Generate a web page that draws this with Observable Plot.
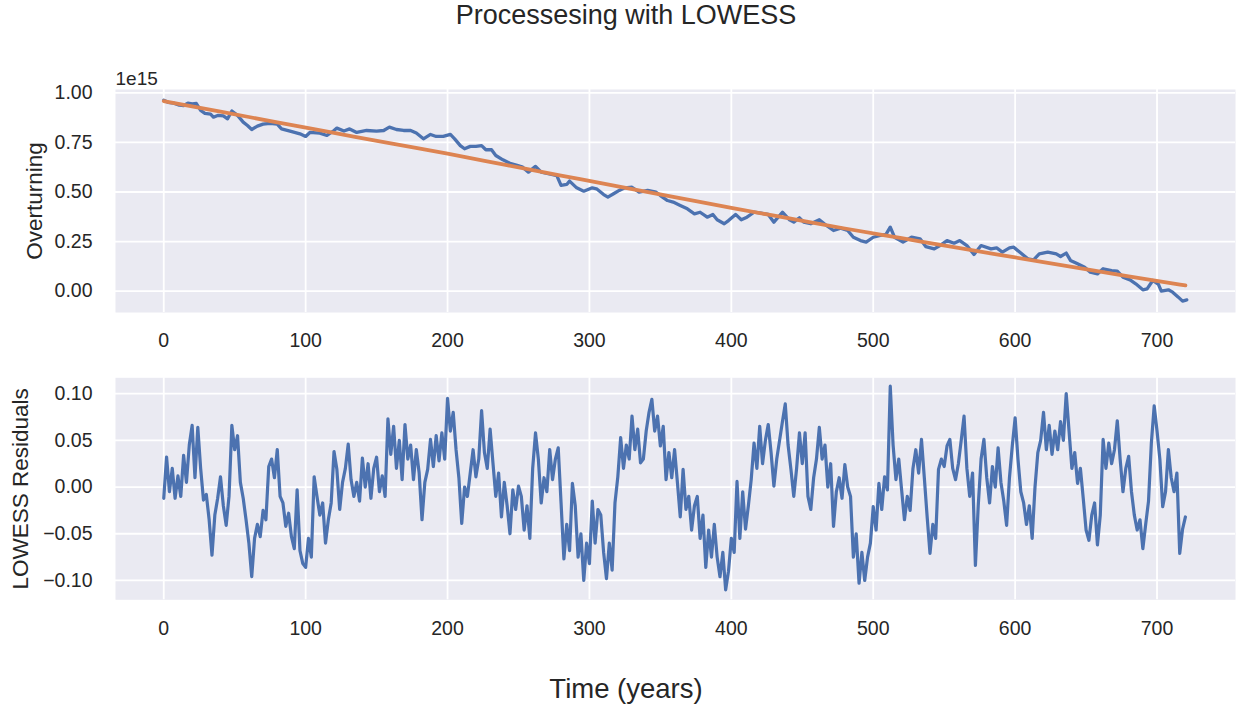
<!DOCTYPE html>
<html><head><meta charset="utf-8">
<script src="https://cdn.jsdelivr.net/npm/d3@7"></script>
<script src="https://cdn.jsdelivr.net/npm/@observablehq/plot@0.6"></script>
<style>
html,body{margin:0;padding:0;background:#fff;}
#fig{position:relative;width:1240px;height:708px;font-family:"Liberation Sans",Arial,sans-serif;color:#262626;overflow:hidden;background:#fff;}
.lbl{position:absolute;white-space:nowrap;line-height:1;transform:translateX(-50%);}
#fig svg{position:absolute;left:0;overflow:visible;}
</style></head><body>
<div id="fig"></div>
<script>
// ---------- data ----------
const xTicks = [0, 100, 200, 300, 400, 500, 600, 700];
const overYTicks = [0, 0.25, 0.5, 0.75, 1.0];
const resYTicks = [-0.10, -0.05, 0, 0.05, 0.10];

// Overturning (units of 1e15)
const overturningYears = [0,3,7,11,14,17,20,23,26,29,33,35,38,42,45,48,52,56,59,62,66,70,75,80,83,89,96,100,103,110,115,120,122,127,131,136,143,150,155,159,164,169,174,178,183,188,192,197,202,205,209,212,216,220,224,227,231,234,239,244,249,253,257,262,266,271,277,280,284,286,291,296,302,305,310,313,317,321,325,330,335,341,347,350,355,359,364,369,374,378,383,387,390,395,398,403,407,411,416,421,426,430,436,441,444,448,451,456,462,467,472,477,482,486,491,495,500,505,509,512,515,521,527,533,537,543,547,552,557,561,566,571,576,583,587,591,596,599,604,609,613,617,623,629,632,636,639,644,649,653,658,662,668,672,676,681,685,690,693,697,701,703,708,711,715,718,721];
const overturningValues = [0.963,0.952,0.948,0.938,0.936,0.948,0.944,0.946,0.911,0.896,0.892,0.877,0.886,0.884,0.869,0.908,0.886,0.852,0.835,0.815,0.832,0.842,0.846,0.842,0.818,0.807,0.793,0.780,0.800,0.797,0.785,0.810,0.822,0.807,0.818,0.800,0.810,0.807,0.810,0.827,0.815,0.810,0.810,0.797,0.768,0.790,0.780,0.780,0.790,0.768,0.734,0.718,0.730,0.730,0.734,0.713,0.713,0.684,0.662,0.645,0.634,0.625,0.600,0.629,0.600,0.592,0.583,0.533,0.538,0.555,0.521,0.504,0.521,0.516,0.487,0.474,0.491,0.508,0.521,0.524,0.499,0.508,0.499,0.482,0.457,0.449,0.432,0.415,0.390,0.398,0.373,0.387,0.360,0.340,0.356,0.387,0.360,0.373,0.398,0.393,0.387,0.348,0.398,0.360,0.348,0.370,0.348,0.340,0.360,0.331,0.306,0.318,0.306,0.272,0.255,0.247,0.272,0.281,0.286,0.323,0.272,0.247,0.272,0.264,0.225,0.213,0.230,0.255,0.242,0.255,0.230,0.185,0.230,0.213,0.218,0.197,0.218,0.222,0.192,0.163,0.158,0.188,0.197,0.188,0.175,0.192,0.155,0.138,0.121,0.096,0.087,0.113,0.104,0.101,0.071,0.057,0.037,0.007,0.012,0.054,0.034,0.000,0.007,-0.005,-0.030,-0.050,-0.044];

// LOWESS trend (units of 1e15)
const trendYears = [0,40,80,120,160,200,240,280,320,360,400,440,480,520,560,600,640,680,720];
const trendValues = [0.958,0.905,0.851,0.798,0.745,0.693,0.638,0.583,0.528,0.474,0.420,0.368,0.316,0.267,0.218,0.170,0.122,0.075,0.029];

// LOWESS residuals, one value every 2 years from year 0 to 720
const residualStep = 2;
const residualValues = [
-0.012,0.032,-0.005,0.020,-0.012,0.012,-0.010,0.034,0.005,0.045,
0.066,0.010,0.064,0.020,-0.014,-0.008,-0.035,-0.073,-0.030,-0.012,
0.011,-0.020,-0.041,-0.010,0.066,0.040,0.055,0.005,-0.012,-0.035,
-0.060,-0.096,-0.055,-0.040,-0.053,-0.025,-0.035,0.022,0.030,0.010,
0.040,-0.010,-0.017,-0.042,-0.028,-0.053,-0.066,-0.003,-0.068,-0.082,
-0.086,-0.055,-0.075,0.011,-0.010,-0.030,-0.017,-0.060,-0.035,-0.017,
0.038,0.019,-0.024,0.005,0.020,0.046,0.008,-0.010,0.005,-0.015,
0.031,0.000,0.025,-0.012,0.020,0.032,-0.005,0.012,-0.010,0.073,
0.035,0.065,0.020,0.050,0.008,0.067,0.030,0.045,0.008,0.040,
0.015,-0.035,0.005,0.019,0.051,0.022,0.055,0.028,0.058,0.030,
0.095,0.060,0.080,0.040,0.010,-0.039,0.000,-0.010,0.015,0.040,
0.011,0.030,0.082,0.037,0.020,0.062,0.026,-0.010,0.015,-0.032,
0.005,-0.020,-0.050,-0.003,-0.024,0.001,-0.010,-0.046,-0.020,-0.055,
0.020,0.058,0.030,-0.017,0.010,-0.005,0.040,0.008,0.030,0.042,
-0.017,-0.077,-0.040,-0.068,0.004,-0.020,-0.075,-0.050,-0.100,-0.060,
-0.082,-0.015,-0.060,-0.024,-0.030,-0.070,-0.098,-0.060,-0.089,-0.017,
0.011,0.053,0.020,0.045,0.030,0.076,0.040,0.062,0.026,0.030,
0.060,0.080,0.094,0.060,0.076,0.044,0.065,0.008,0.037,0.010,
0.040,0.005,-0.032,0.019,-0.024,-0.010,-0.046,-0.020,-0.010,-0.055,
-0.030,-0.086,-0.046,-0.075,-0.040,-0.075,-0.096,-0.070,-0.110,-0.090,
-0.055,-0.070,0.006,-0.055,-0.005,-0.045,-0.020,0.008,0.047,0.020,
0.065,0.025,0.050,0.067,0.037,0.001,0.030,0.050,0.070,0.089,
0.045,0.019,-0.010,0.020,0.058,0.025,0.058,-0.010,-0.024,0.010,
0.030,0.064,0.030,0.045,0.000,0.025,-0.042,-0.005,0.010,-0.012,
0.024,0.000,-0.010,-0.075,-0.050,-0.103,-0.070,-0.100,-0.075,-0.060,
-0.021,-0.046,0.004,-0.024,0.011,-0.003,0.108,0.045,0.008,0.030,
-0.003,-0.035,-0.010,-0.025,0.020,0.040,0.015,0.051,0.010,-0.032,
-0.071,-0.040,-0.055,0.019,0.030,0.022,0.044,0.051,0.020,0.008,
0.025,0.050,0.076,0.020,-0.010,0.015,-0.084,-0.020,0.030,0.051,
0.010,-0.017,0.022,0.000,0.042,0.005,-0.015,-0.041,0.010,0.044,
0.074,0.030,-0.005,-0.017,-0.040,-0.020,-0.055,0.000,0.037,0.050,
0.080,0.040,0.066,0.035,0.060,0.040,0.070,0.050,0.100,0.060,
0.020,0.037,0.004,0.020,-0.012,-0.046,-0.057,-0.030,-0.017,-0.062,
-0.030,0.051,0.020,0.047,0.025,0.040,0.071,0.030,-0.005,0.020,
0.033,-0.005,-0.030,-0.046,-0.035,-0.066,-0.040,-0.015,0.047,0.087,
0.060,0.030,-0.021,-0.005,0.040,0.010,-0.005,0.015,-0.071,-0.045,
-0.032];

// ---------- drawing ----------
const FONT = '"Liberation Sans", Arial, sans-serif';
const BG = "#EAEAF2", BLUE = "#4C72B0", ORANGE = "#DD8452", INK = "#262626";
const X_DOMAIN = [-34.0, 755.3];

const over = overturningYears.map((t, i) => ({t, v: overturningValues[i]}));
const trend = trendYears.map((t, i) => ({t, v: trendValues[i]}));
const resid = residualValues.map((v, i) => ({t: i * residualStep, v}));

function panel({height, marginTop, marginBottom, yDomain, yTicks, ylabel, ylabelX, marks}) {
  return Plot.plot({
    width: 1240, height, marginLeft: 115, marginRight: 5, marginTop, marginBottom,
    style: {fontFamily: FONT, fontSize: "19.5px", color: INK, background: "transparent", overflow: "visible"},
    x: {domain: X_DOMAIN},
    y: {domain: yDomain},
    marks: [
      Plot.frame({fill: BG, stroke: "none"}),
      Plot.ruleX(xTicks, {stroke: "white", strokeWidth: 1.8}),
      Plot.ruleY(yTicks, {stroke: "white", strokeWidth: 1.8}),
      ...marks,
      Plot.axisX({ticks: xTicks, tickSize: 0, tickPadding: 21, label: null, tickFormat: d => String(d)}),
      Plot.axisY({ticks: yTicks, tickSize: 0, tickPadding: 23, label: null, tickFormat: d3.format(".2f")}),
      Plot.text([ylabel], {text: d => d, frameAnchor: "left", rotate: -90, dx: ylabelX - 115,
        textAnchor: "middle", lineAnchor: "middle", fontSize: 22.5, fill: INK})
    ]
  });
}

const fig = document.getElementById("fig");

const topChart = panel({
  height: 320, marginTop: 49, marginBottom: 48,
  yDomain: [-0.1074, 1.0166], yTicks: overYTicks, ylabel: "Overturning", ylabelX: 34,
  marks: [
    Plot.line(over, {x: "t", y: "v", stroke: BLUE, strokeWidth: 3.3, strokeLinejoin: "round"}),
    Plot.line(trend, {x: "t", y: "v", stroke: ORANGE, strokeWidth: 3.8, curve: "monotone-x"}),
    Plot.text(["1e15"], {text: d => d, frameAnchor: "top-left", textAnchor: "start", lineAnchor: "bottom", dy: -5, fontSize: 19, fill: INK})
  ]
});
topChart.style.top = "40px";
fig.appendChild(topChart);

const botChart = panel({
  height: 300, marginTop: 17.3, marginBottom: 60.7,
  yDomain: [-0.1207, 0.117], yTicks: resYTicks, ylabel: "LOWESS Residuals", ylabelX: 20,
  marks: [
    Plot.line(resid, {x: "t", y: "v", stroke: BLUE, strokeWidth: 3.2, strokeLinejoin: "round"})
  ]
});
botChart.style.top = "360px";
fig.appendChild(botChart);

const title = document.createElement("div");
title.className = "lbl";
title.textContent = "Processesing with LOWESS";
Object.assign(title.style, {left: "626px", top: "2px", fontSize: "27px"});
fig.appendChild(title);

const xlab = document.createElement("div");
xlab.className = "lbl";
xlab.textContent = "Time (years)";
Object.assign(xlab.style, {left: "626px", top: "675px", fontSize: "27.5px"});
fig.appendChild(xlab);
</script>
</body></html>
